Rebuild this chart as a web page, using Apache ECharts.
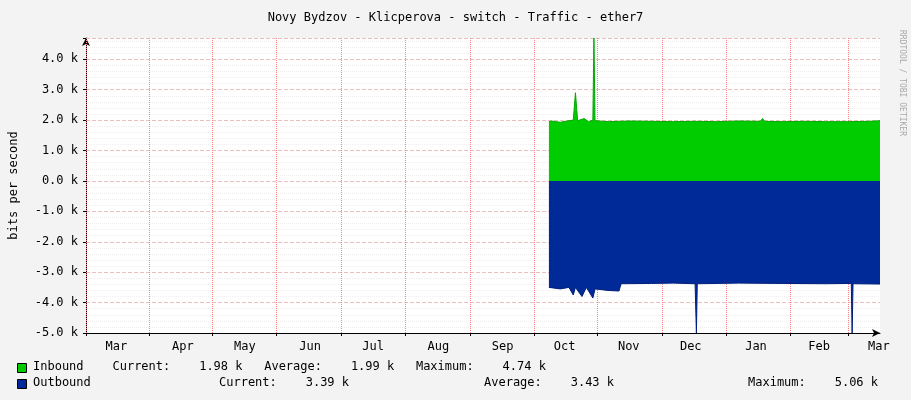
<!DOCTYPE html>
<html><head><meta charset="utf-8">
<script src="https://cdn.jsdelivr.net/npm/echarts@6/dist/echarts.min.js"></script>
<style>html,body{margin:0;background:#f3f3f3}#c{width:911px;height:400px}</style>
</head><body><div id="c"></div>
<script>
const monthLabels=['Mar','Apr','May','Jun','Jul','Aug','Sep','Oct','Nov','Dec','Jan','Feb','Mar'];
const monthLabelDays=[14,44.5,73,103,132,162,191.5,220,249.5,278,308,337,364.5];
const gridDays=[0,29.3,58.2,87.6,117.4,146.7,176.5,205.9,235.2,265,294.4,323.7,350.3];
const inbound=[[212.8,1.95],[214,1.97],[218,1.93],[222,1.98],[224,2.0],[225,2.9],[226,1.98],[229,2.05],[231,1.95],[233,2.0],[233.5,4.7],[234,1.98],[240,1.95],[250,1.97],[260,1.96],[270,1.95],[280,1.96],[290,1.95],[300,1.97],[310,1.96],[311,2.05],[312,1.96],[320,1.95],[330,1.96],[340,1.95],[350,1.95],[360,1.96],[365,1.98]];
const outbound=[[212.8,-3.5],[218,-3.55],[222,-3.5],[224,-3.75],[225,-3.5],[228,-3.8],[230,-3.5],[233,-3.85],[234,-3.55],[240,-3.6],[245,-3.62],[246,-3.38],[260,-3.37],[270,-3.36],[280,-3.38],[280.6,-5.0],[281,-3.38],[300,-3.36],[320,-3.37],[340,-3.38],[351.8,-3.37],[352.2,-5.0],[352.6,-3.38],[365,-3.39]];
const legendRows=[
 ['Inbound','Current:    1.98 k   Average:    1.99 k   Maximum:    4.74 k','#00cc00'],
 ['Outbound','Current:    3.39 k','#002a97']];
const F='DejaVu Sans Mono';
const ch=echarts.init(document.getElementById('c'));
ch.setOption({
 animation:false,backgroundColor:'#f3f3f3',
 title:{text:'Novy Bydzov - Klicperova - switch - Traffic - ether7',left:'center',top:7,textStyle:{fontFamily:F,fontSize:12,fontWeight:'normal',color:'#000'}},
 grid:{left:84,right:31,top:38,bottom:67,show:true,backgroundColor:'#fff',borderWidth:0},
 xAxis:{type:'value',min:0,max:365,
  axisLine:{onZero:false,lineStyle:{color:'#000'},symbol:['none','arrow'],symbolSize:[6,8]},
  axisTick:{customValues:gridDays,length:3,lineStyle:{color:'#000'}},
  axisLabel:{customValues:monthLabelDays,formatter:(v)=>monthLabels[monthLabelDays.indexOf(v)]||'',fontFamily:F,fontSize:12,color:'#000'},
  splitLine:{show:false}},
 yAxis:{type:'value',min:-5,max:4.7,interval:1,
  name:'bits per second',nameLocation:'middle',nameGap:66,nameTextStyle:{fontFamily:F,fontSize:12,color:'#000'},
  axisLine:{show:true,lineStyle:{color:'#000'},symbol:['none','arrow'],symbolSize:[6,8]},
  axisTick:{show:true,length:3},
  axisLabel:{showMaxLabel:false,formatter:v=>v.toFixed(1)+' k',fontFamily:F,fontSize:12,color:'#000'},
  splitLine:{lineStyle:{color:'#e8c0c0',type:'dashed'}},
  minorTick:{show:true,splitNumber:5,length:0},
  minorSplitLine:{show:true,lineStyle:{color:'#eeeeee',type:'dotted'}}},
 series:[
  {type:'line',data:inbound,symbol:'none',lineStyle:{width:1,color:'#00aa00'},areaStyle:{color:'#00cc00',opacity:1},z:3,
   markLine:{silent:true,symbol:'none',label:{show:false},lineStyle:{color:'#ff8080',type:'dotted',width:1},data:gridDays.map(d=>({xAxis:d})),z:1}},
  {type:'line',data:outbound,symbol:'none',lineStyle:{width:1,color:'#001f7a'},areaStyle:{color:'#002a97',opacity:1},z:3}
 ],
 graphic:[
  {type:'rect',left:17,top:363,shape:{width:9,height:9},style:{fill:legendRows[0][2],stroke:'#000'}},
  {type:'text',left:33,top:361,style:{text:legendRows[0][0]+'    '+legendRows[0][1],font:'12px '+F,fill:'#000'}},
  {type:'rect',left:17,top:379,shape:{width:9,height:9},style:{fill:legendRows[1][2],stroke:'#000'}},
  {type:'text',left:33,top:377,style:{text:legendRows[1][0],font:'12px '+F,fill:'#000'}},
  {type:'text',left:219,top:377,style:{text:'Current:    3.39 k',font:'12px '+F,fill:'#000'}},
  {type:'text',left:484,top:377,style:{text:'Average:    3.43 k',font:'12px '+F,fill:'#000'}},
  {type:'text',left:748,top:377,style:{text:'Maximum:    5.06 k',font:'12px '+F,fill:'#000'}},
  {type:'text',left:898,top:30,rotation:-Math.PI/2,style:{text:'RRDTOOL / TOBI OETIKER',font:'8px '+F,fill:'#aaa'}}
 ]
});
</script></body></html>
